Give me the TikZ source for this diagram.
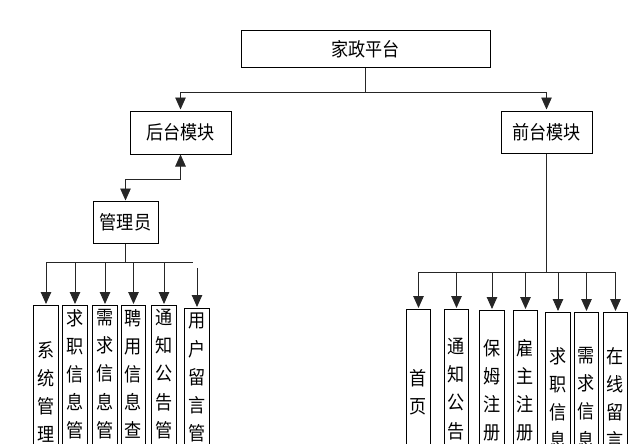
\documentclass[tikz,border=0pt]{standalone}
\usepackage{fontspec}
\newfontfamily\cjk[FakeStretch=0.9]{Noto Sans CJK SC}
\usetikzlibrary{arrows.meta}
\begin{document}
\begin{tikzpicture}[x=1pt,y=-1pt,
  box/.style={draw=black, line width=1pt, fill=white, inner sep=0pt, font=\cjk\fontsize{19}{22}\selectfont},
  leaf/.style={draw=black, line width=1pt, fill=white, inner sep=0pt, minimum width=24.5pt, minimum height=200pt, anchor=north},
  vtext/.style={inner sep=0pt, anchor=north, align=center, font=\cjk\fontsize{19}{28.2}\selectfont},
  conn/.style={draw=black!85, line width=0.9pt},
  tip/.tip={Triangle[width=10.5pt,length=12pt]},
  arr/.style={conn, -tip, shorten >=1pt},
  dbl/.style={conn, tip-tip}
]
\useasboundingbox (0,0) rectangle (637,444);
\clip (0,0) rectangle (637,444);

% main boxes
\node[box, minimum width=249pt, minimum height=37pt] (top) at (365.5,49.5) {家政平台};
\node[box, minimum width=101pt, minimum height=43pt] (back) at (180.5,132.5) {后台模块};
\node[box, minimum width=91pt, minimum height=42pt] (front) at (546.5,132) {前台模块};
\node[box, minimum width=65pt, minimum height=42pt] (mgr) at (125.5,222) {管理员};

% left leaves
\node[leaf] (l1) at (46,305) {};
\node[leaf] (l2) at (75,305) {};
\node[leaf] (l3) at (105,305) {};
\node[leaf] (l4) at (133.5,305) {};
\node[leaf] (l5) at (164,305) {};
\node[leaf] (l6) at (197,308) {};
\node[vtext] (t1) at (46,341) {系\\统\\管\\理};
\node[vtext] (t2) at (75,309) {求\\职\\信\\息\\管};
\node[vtext] (t3) at (105,309) {需\\求\\信\\息\\管};
\node[vtext] (t4) at (133.5,309) {聘\\用\\信\\息\\查};
\node[vtext] (t5) at (164,309) {通\\知\\公\\告\\管};
\node[vtext] (t6) at (197,313) {用\\户\\留\\言\\管};

% right leaves
\node[leaf] (r1) at (418.5,309) {};
\node[leaf] (r2) at (456.5,309) {};
\node[leaf] (r3) at (492,310) {};
\node[leaf] (r4) at (525.5,310) {};
\node[leaf] (r5) at (558,312) {};
\node[leaf] (r6) at (586.5,312) {};
\node[leaf] (r7) at (615.5,312) {};
\node[vtext] (s1) at (418.5,369) {首\\页};
\node[vtext] (s2) at (456.5,338) {通\\知\\公\\告};
\node[vtext] (s3) at (492,339) {保\\姆\\注\\册};
\node[vtext] (s4) at (525.5,339) {雇\\主\\注\\册};
\node[vtext] (s5) at (558,347) {求\\职\\信\\息};
\node[vtext] (s6) at (586.5,347) {需\\求\\信\\息};
\node[vtext] (s7) at (615.5,347) {在\\线\\留\\言};

% top connectors
\coordinate (j1) at (365.5,92);
\draw[conn] (top.south) -- (j1);
\draw[arr] (j1) -| (back.north);
\draw[arr] (j1) -| (front.north);

% back <-> manager
\coordinate (m1) at (150,179);
\draw[dbl] (back.south) -- (back.south |- m1) -| (mgr.north);

% left bus
\coordinate (lb) at (0,262);
\coordinate (lbe) at (193,262);
\coordinate (l6s) at (0,268);
\draw[conn] (mgr.south) -- (mgr.south |- lb);
\draw[conn] (l1.north |- lb) -- (lbe);
\foreach \n in {l1,l2,l3,l4,l5} \draw[arr] (\n.north |- lb) -- (\n.north);
\draw[arr] (l6.north |- l6s) -- (l6.north);

% right bus
\coordinate (rb) at (0,272);
\draw[conn] (front.south) -- (front.south |- rb);
\draw[conn] (r1.north |- rb) -- (r7.north |- rb);
\foreach \n in {r1,r2,r3,r4,r5,r6,r7} \draw[arr] (\n.north |- rb) -- (\n.north);
\end{tikzpicture}
\end{document}
